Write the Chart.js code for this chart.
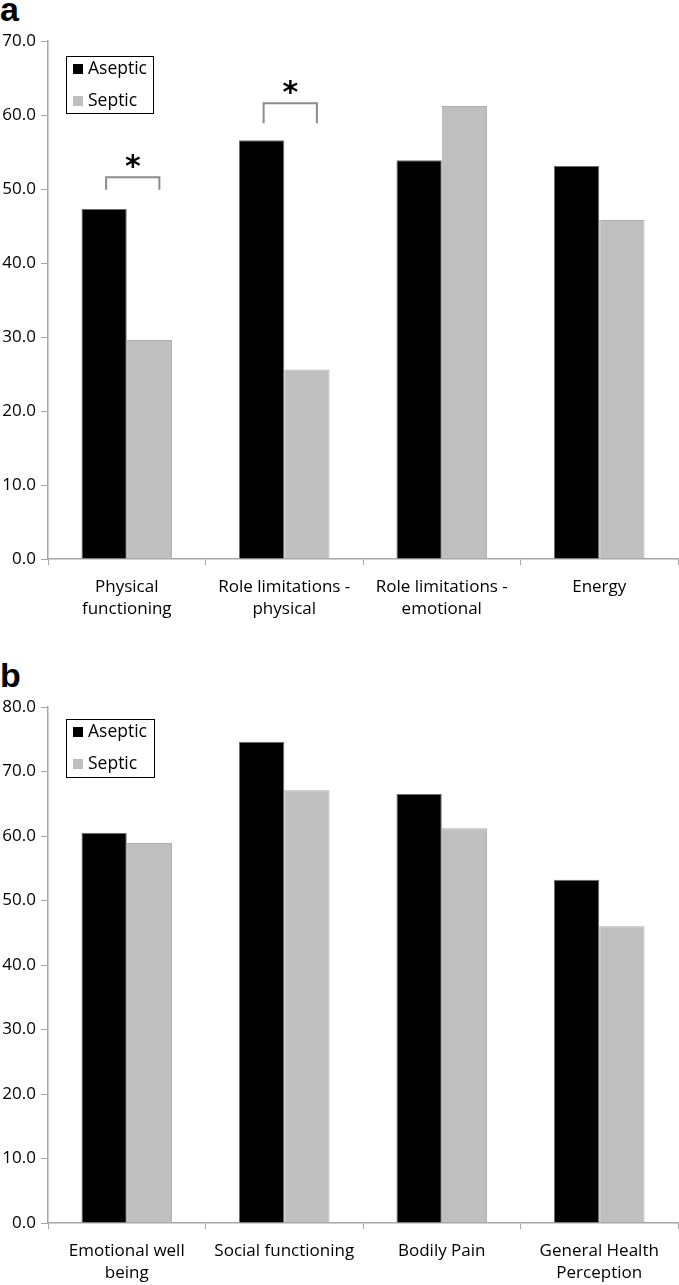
<!DOCTYPE html>
<html>
<head>
    <title>SF-36 Aseptic vs Septic</title>
    <script src="https://cdn.jsdelivr.net/npm/chart.js@4.4.0/dist/chart.umd.min.js"></script>
</head>
<body>
    <div class="panel" id="panelA">
        <div class="letter">a</div>
        <canvas id="chartA" width="679" height="620"></canvas>
    </div>
    <div class="panel" id="panelB">
        <div class="letter">b</div>
        <canvas id="chartB" width="679" height="665"></canvas>
    </div>
    <style>
        body {
            margin: 0;
            padding: 0;
            background-color: white;
            overflow: hidden;
        }
        .panel {
            position: absolute;
            left: 0;
            width: 679px;
        }
        #panelA { top: 0; height: 620px; }
        #panelB { top: 620px; height: 665px; }
        .letter {
            position: absolute;
            left: 0;
            font-family: "Liberation Sans", Arial, sans-serif;
            font-weight: bold;
            font-size: 34px;
            line-height: 34px;
            color: #000;
        }
        #panelA .letter { top: -8px; }
        #panelB .letter { top: 38px; }
        canvas { position: absolute; left: 0; top: 0; }
    </style>
    <script>
        // datos del panel a
        const categoriesA = [['Physical', 'functioning'], ['Role limitations -', 'physical'], ['Role limitations -', 'emotional'], 'Energy'];
        const asepticA = [47.3, 56.6, 53.9, 53.1];
        const septicA = [29.6, 25.6, 61.2, 45.8];
        const yMaxA = 70;

        // datos del panel b
        const categoriesB = [['Emotional well', 'being'], 'Social functioning', 'Bodily Pain', ['General Health', 'Perception']];
        const asepticB = [60.5, 74.6, 66.5, 53.2];
        const septicB = [58.9, 67.1, 61.2, 46.0];
        const yMaxB = 80;

        const seriesNames = ['Aseptic', 'Septic'];

        // corchetes de significancia (solo panel a)
        const sigIndexA = [0, 1];
        const sigTopA = [51.6, 61.6];
        const sigLegA = [49.9, 58.9];

        const FONT = '"Open Sans", sans-serif';
        const AXIS_GREY = '#a6a6a6';

        // leyenda en recuadro dentro del area del grafico
        const boxLegend = {
            id: 'boxLegend',
            afterDraw(chart, args, opts) {
                const ctx = chart.ctx;
                ctx.save();
                ctx.strokeStyle = '#000';
                ctx.lineWidth = 1;
                ctx.strokeRect(opts.x + 0.5, opts.y + 0.5, opts.w, opts.h);
                ctx.font = '17.5px ' + FONT;
                ctx.textBaseline = 'middle';
                chart.data.datasets.forEach((ds, i) => {
                    const cy = opts.y + 13 + i * 32;
                    ctx.fillStyle = ds.backgroundColor;
                    ctx.fillRect(opts.x + 7, cy - 5, 10, 10);
                    ctx.fillStyle = '#000';
                    ctx.fillText(ds.label, opts.x + 22, cy);
                });
                ctx.restore();
            }
        };

        // corchetes con asterisco
        const sigBrackets = {
            id: 'sigBrackets',
            afterDatasetsDraw(chart, args, opts) {
                if (!opts.index) return;
                const ctx = chart.ctx;
                const y = chart.scales.y;
                const m0 = chart.getDatasetMeta(0);
                const m1 = chart.getDatasetMeta(1);
                ctx.save();
                ctx.strokeStyle = '#8c8c8c';
                ctx.lineWidth = 2;
                opts.index.forEach((idx, k) => {
                    const x1 = m0.data[idx].x + 2;
                    const x2 = m1.data[idx].x + 10;
                    const yt = y.getPixelForValue(opts.top[k]);
                    const yl = y.getPixelForValue(opts.leg[k]);
                    ctx.beginPath();
                    ctx.moveTo(x1, yl);
                    ctx.lineTo(x1, yt);
                    ctx.lineTo(x2, yt);
                    ctx.lineTo(x2, yl);
                    ctx.stroke();
                    ctx.fillStyle = '#000';
                    ctx.font = 'bold 30px "DejaVu Sans", sans-serif';
                    ctx.textAlign = 'center';
                    ctx.textBaseline = 'middle';
                    ctx.fillText('*', (x1 + x2) / 2, yt - 9);
                });
                ctx.restore();
            }
        };

        function crearGrafica(id, labels, aseptic, septic, yMax, topPad, xAxisH, legendPos, sig) {
            const ctx = document.getElementById(id).getContext('2d');
            return new Chart(ctx, {
                type: 'bar',
                data: {
                    labels: labels,
                    datasets: [{
                        label: seriesNames[0],
                        data: aseptic,
                        backgroundColor: '#000000',
                        borderColor: '#6e6e6e',
                        borderWidth: 1,
                        categoryPercentage: 0.575,
                        barPercentage: 1
                    }, {
                        label: seriesNames[1],
                        data: septic,
                        backgroundColor: '#bfbfbf',
                        borderColor: '#b0b0b0',
                        borderWidth: 1,
                        categoryPercentage: 0.575,
                        barPercentage: 1
                    }]
                },
                options: {
                    responsive: false,
                    animation: false,
                    layout: { padding: { top: topPad, right: 1, left: 0, bottom: 0 } },
                    scales: {
                        x: {
                            grid: {
                                offset: true,
                                drawOnChartArea: false,
                                color: AXIS_GREY,
                                tickLength: 6
                            },
                            border: { color: AXIS_GREY, width: 1.5 },
                            ticks: {
                                color: '#000',
                                font: { family: FONT, size: 17, lineHeight: 1.25 },
                                padding: 12,
                                maxRotation: 0,
                                autoSkip: false
                            },
                            afterFit: (scale) => { scale.height = xAxisH; }
                        },
                        y: {
                            min: 0,
                            max: yMax,
                            grid: {
                                drawOnChartArea: false,
                                color: AXIS_GREY,
                                tickLength: 7
                            },
                            border: { color: AXIS_GREY, width: 1.5 },
                            ticks: {
                                stepSize: 10,
                                color: '#000',
                                font: { family: FONT, size: 17 },
                                padding: 5,
                                callback: (v) => Number(v).toFixed(1)
                            },
                            afterFit: (scale) => { scale.width = 48; }
                        }
                    },
                    plugins: {
                        legend: { display: false },
                        tooltip: { enabled: false },
                        boxLegend: legendPos,
                        sigBrackets: sig
                    }
                },
                plugins: [boxLegend, sigBrackets]
            });
        }

        crearGrafica('chartA', categoriesA, asepticA, septicA, yMaxA, 41, 61,
            { x: 66, y: 56, w: 87, h: 57 },
            { index: sigIndexA, top: sigTopA, leg: sigLegA });

        crearGrafica('chartB', categoriesB, asepticB, septicB, yMaxB, 87, 62,
            { x: 66, y: 99, w: 88, h: 58 },
            {});
    </script>
</body>
</html>
